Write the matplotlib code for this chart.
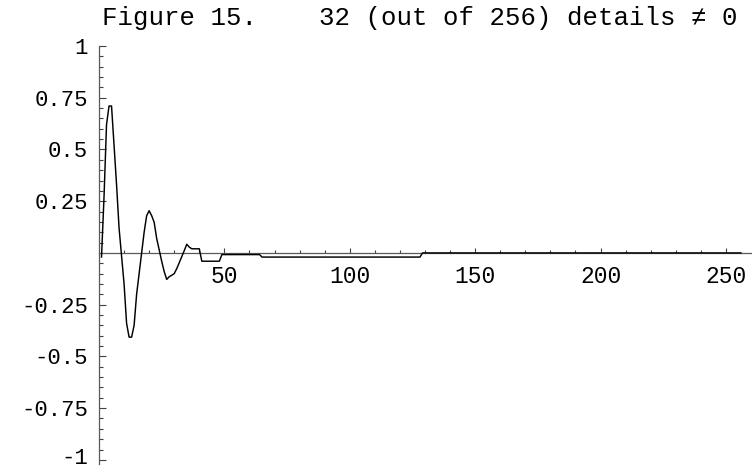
import matplotlib.pyplot as plt
import matplotlib.transforms as mtransforms
import numpy as np

# reconstruction from 32 non-zero detail coefficients, samples 1..256
head = [-0.02, 0.27, 0.62, 0.71, 0.71, 0.52, 0.33, 0.12, -0.013, -0.15,
        -0.34, -0.407, -0.407, -0.35, -0.2, -0.1, 0.0, 0.1, 0.18, 0.204,
        0.18, 0.148, 0.07, 0.015, -0.04, -0.09, -0.128, -0.115, -0.108, -0.1,
        -0.076, -0.047, -0.018, 0.011, 0.042, 0.028, 0.02, 0.02, 0.02, 0.02]
# flat tail: level and number of samples
tail_levels = [-0.04, -0.008, -0.02, 0.0]
tail_counts = [8, 16, 64, 128]

signal = np.concatenate([head, np.repeat(tail_levels, tail_counts)])
n = np.arange(1, len(signal) + 1)

yticks = [-1, -0.75, -0.5, -0.25, 0.25, 0.5, 0.75, 1]
ytick_labels = ['-1', '-0.75', '-0.5', '-0.25', '0.25', '0.5', '0.75', '1']
xticks = [50, 100, 150, 200, 250]
title = 'Figure 15.    32 (out of 256) details \u2260 0'

mono = ['Liberation Mono', 'DejaVu Sans Mono']

fig = plt.figure(figsize=(7.52, 4.70), dpi=100)
# y from -1.02 to 1, x from 0 to the right edge
ax = fig.add_axes([99 / 752, 1 - 464 / 470, 653 / 752, 418 / 470])

ax.plot(n, signal, color='black', lw=1.05, zorder=3)

ax.set_xlim(0, 260.4)
ax.set_ylim(-1.02, 1)

for s in ['top', 'right']:
    ax.spines[s].set_visible(False)
ax.spines['bottom'].set_position(('data', 0))
ax.spines['left'].set_position(('data', 0))
for s in ['bottom', 'left']:
    ax.spines[s].set_color('0.35')
    ax.spines[s].set_linewidth(0.9)

ax.set_yticks(yticks)
ax.set_yticklabels(ytick_labels, family=mono, fontsize=16)
ax.set_yticks(np.arange(-1, 1.001, 0.05), minor=True)
ax.set_xticks(xticks)
ax.set_xticklabels([str(v) for v in xticks], family=mono, fontsize=16.5)
ax.set_xticks(np.arange(10, 260, 10), minor=True)

ax.tick_params(axis='both', which='both', direction='in', color='0.25', width=0.8)
ax.tick_params(axis='y', which='major', length=5, pad=8)
ax.tick_params(axis='y', which='minor', length=3)
ax.tick_params(axis='x', which='major', length=3.5, pad=9)
ax.tick_params(axis='x', which='minor', length=2.5)

# lift the bottom "-1" label a little so it stays inside the figure
lift = mtransforms.ScaledTranslation(0, 4 / 100, fig.dpi_scale_trans)
for tick in ax.yaxis.get_major_ticks()[:1]:
    tick.label1.set_transform(tick.label1.get_transform() + lift)

fig.text(420 / 752, 1 - 18 / 470, title, family=mono, fontsize=18.5,
         ha='center', va='center')

fig.savefig('out.png', dpi=100)
